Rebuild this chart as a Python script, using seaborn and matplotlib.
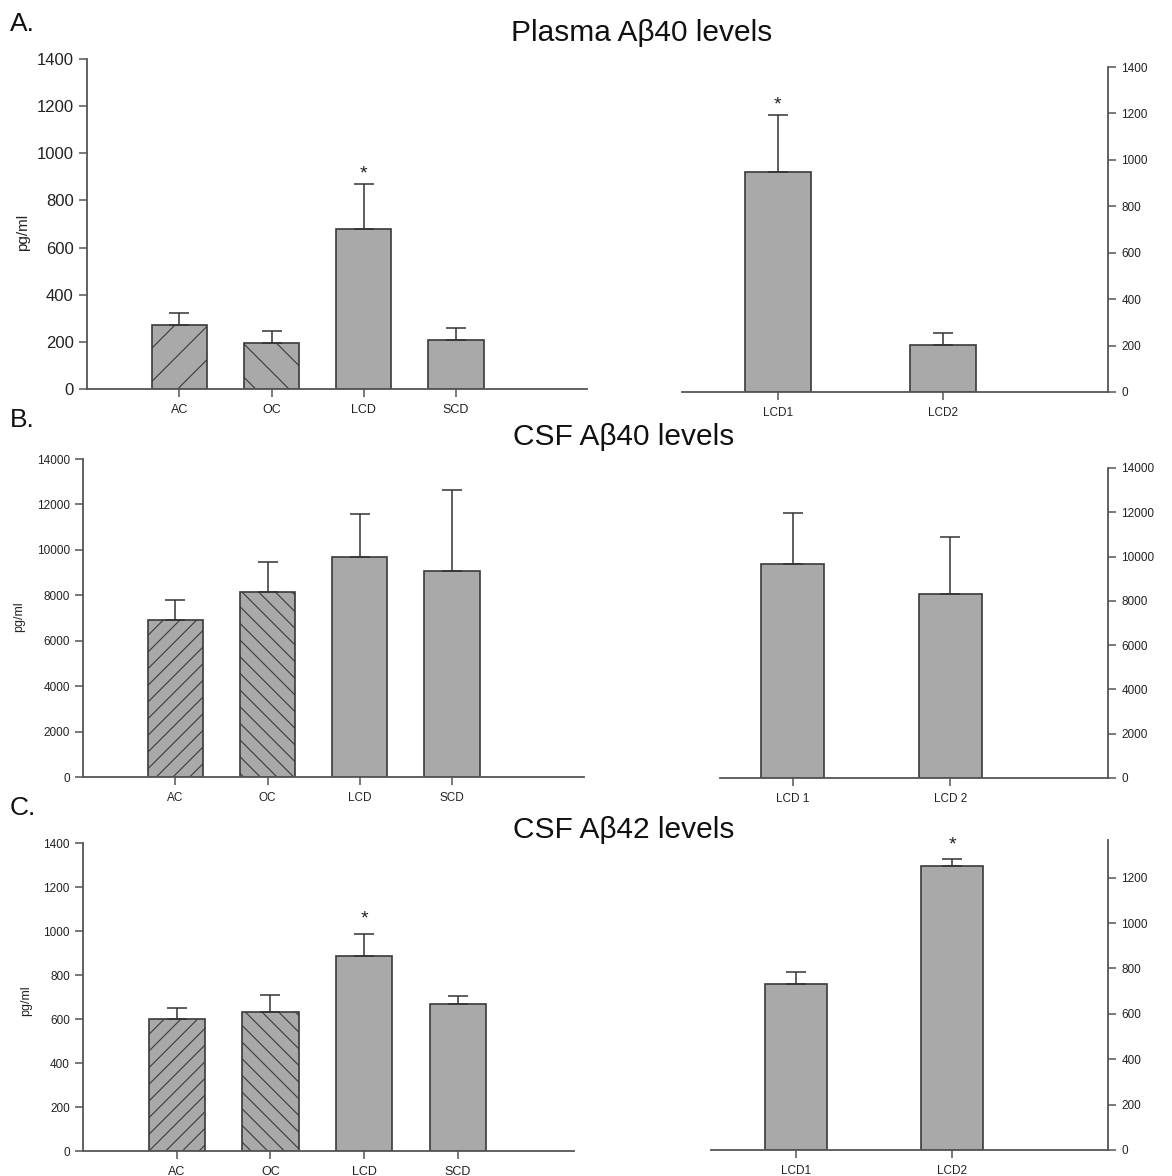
import matplotlib
matplotlib.use("Agg")
import matplotlib.pyplot as plt
import seaborn as sns
import pandas as pd

# ---------------- data ----------------
left_cats = ["AC", "OC", "LCD", "SCD"]

a_left_means = [272, 195, 680, 209]
a_left_err = [50, 52, 190, 51]
a_right_cats = ["LCD1", "LCD2"]
a_right_means = [949, 204]
a_right_err = [245, 49]

b_left_means = [6900, 8160, 9700, 9070]
b_left_err = [895, 1325, 1870, 3545]
b_right_cats = ["LCD 1", "LCD 2"]
b_right_means = [9660, 8290]
b_right_err = [2300, 2615]

c_left_means = [600, 632, 887, 667]
c_left_err = [51, 75, 99, 38]
c_right_cats = ["LCD1", "LCD2"]
c_right_means = [730, 1251]
c_right_err = [56, 30]

titles = ["Plasma A\u03b240 levels", "CSF A\u03b240 levels", "CSF A\u03b242 levels"]
panel_labels = ["A.", "B.", "C."]

# ---------------- style ----------------
sns.set_theme(style="white")
plt.rcParams["font.family"] = ["Liberation Sans", "DejaVu Sans"]
plt.rcParams["hatch.linewidth"] = 0.8

W, H = 1172, 1176
fig = plt.figure(figsize=(W / 100, H / 100), dpi=100)

BAR = "#a9a9a9"
EDGE = "#3a3a3a"
AX = "#555555"


def rect(x0, x1, ytop, ybot):
    return [x0 / W, 1 - ybot / H, (x1 - x0) / W, (ybot - ytop) / H]


def draw(ax, cats, means, errs, width, ylim, yticks, xlim, side, ytick_fs, xtick_fs,
         hatches=None, stars=None, star_fs=14):
    df = pd.DataFrame({"group": cats, "value": means})
    sns.barplot(data=df, x="group", y="value", color=BAR, saturation=1,
                edgecolor=EDGE, linewidth=1.2, width=width, ax=ax, errorbar=None)
    ax.errorbar(range(len(cats)), means, yerr=[[0] * len(cats), errs], fmt="none",
                ecolor="#333333", elinewidth=1.1, capsize=7, capthick=1.1, zorder=1)
    if hatches:
        for p, h in zip(ax.patches, hatches):
            if h:
                p.set_hatch(h)
    ax.set_ylim(*ylim)
    ax.set_xlim(*xlim)
    ax.set_yticks(yticks)
    ax.set_xlabel("")
    ax.set_ylabel("")
    for s in ["top", "left", "right", "bottom"]:
        ax.spines[s].set_visible(False)
    ax.spines["bottom"].set_visible(True)
    ax.spines[side].set_visible(True)
    ax.spines["bottom"].set_color(AX)
    ax.spines[side].set_color(AX)
    ax.spines["bottom"].set_linewidth(1.3)
    ax.spines[side].set_linewidth(1.3)
    if side == "right":
        ax.yaxis.tick_right()
    ax.tick_params(axis="y", which="both", direction="out", length=6, width=1.1,
                   color=AX, labelsize=ytick_fs, labelcolor="#222222",
                   left=(side == "left"), right=(side == "right"),
                   labelleft=(side == "left"), labelright=(side == "right"))
    ax.tick_params(axis="x", direction="out", length=6, width=1.1, color=AX,
                   labelsize=xtick_fs, labelcolor="#222222", bottom=True, pad=5)
    ax.set_facecolor("white")
    if stars:
        for xi, yv in stars:
            ax.text(xi, yv, "*", ha="center", va="center", fontsize=star_fs,
                    color="#222222", clip_on=False)


# ---- Panel A ----
axA1 = fig.add_axes(rect(87, 587, 59, 389))
draw(axA1, left_cats, a_left_means, a_left_err, 0.6, (0, 1400), range(0, 1401, 200),
     (-1.0, 4.42), "left", 12, 9, hatches=["/", "\\", None, None],
     stars=[(2, 913)])
axA2 = fig.add_axes(rect(682, 1108, 67, 392))
draw(axA2, a_right_cats, a_right_means, a_right_err, 0.4, (0, 1400), range(0, 1401, 200),
     (-0.58, 2.0), "right", 8.5, 8.5, stars=[(0, 1238)])

# ---- Panel B ----
axB1 = fig.add_axes(rect(83, 584, 459, 777))
draw(axB1, left_cats, b_left_means, b_left_err, 0.6, (0, 14000), range(0, 14001, 2000),
     (-1.0, 4.43), "left", 8.5, 8.5, hatches=["//", "\\\\", None, None])
axB2 = fig.add_axes(rect(720, 1108, 468, 778))
draw(axB2, b_right_cats, b_right_means, b_right_err, 0.4, (0, 14000), range(0, 14001, 2000),
     (-0.46, 2.0), "right", 8.5, 8.5)

# ---- Panel C ----
axC1 = fig.add_axes(rect(83, 574, 843, 1151))
draw(axC1, left_cats, c_left_means, c_left_err, 0.6, (0, 1400), range(0, 1401, 200),
     (-1.0, 4.24), "left", 8.5, 9, hatches=["//", "\\\\", None, None],
     stars=[(2, 1054)])
axC2 = fig.add_axes(rect(711, 1108, 840, 1150))
draw(axC2, c_right_cats, c_right_means, c_right_err, 0.4, (0, 1366), range(0, 1201, 200),
     (-0.545, 2.0), "right", 8.5, 8.5, stars=[(1, 1345)])

# y labels
fig.text(23 / W, 1 - 232 / H, "pg/ml", rotation=90, ha="center", va="center",
         fontsize=11, color="#222222")
fig.text(19 / W, 1 - 617 / H, "pg/ml", rotation=90, ha="center", va="center",
         fontsize=9, color="#222222")
fig.text(26 / W, 1 - 1001 / H, "pg/ml", rotation=90, ha="center", va="center",
         fontsize=9, color="#222222")

# titles and panel labels
for t, (xc, yc) in zip(titles, [(642, 33), (624, 437), (624, 830)]):
    fig.text(xc / W, 1 - yc / H, t, ha="center", va="center", fontsize=21.5, color="#111111")
for lab, (xl, yl) in zip(panel_labels, [(10, 24), (10, 420), (10, 808)]):
    fig.text(xl / W, 1 - yl / H, lab, ha="left", va="center", fontsize=19, color="#111111")

fig.savefig("out.png", dpi=100, facecolor="white")
